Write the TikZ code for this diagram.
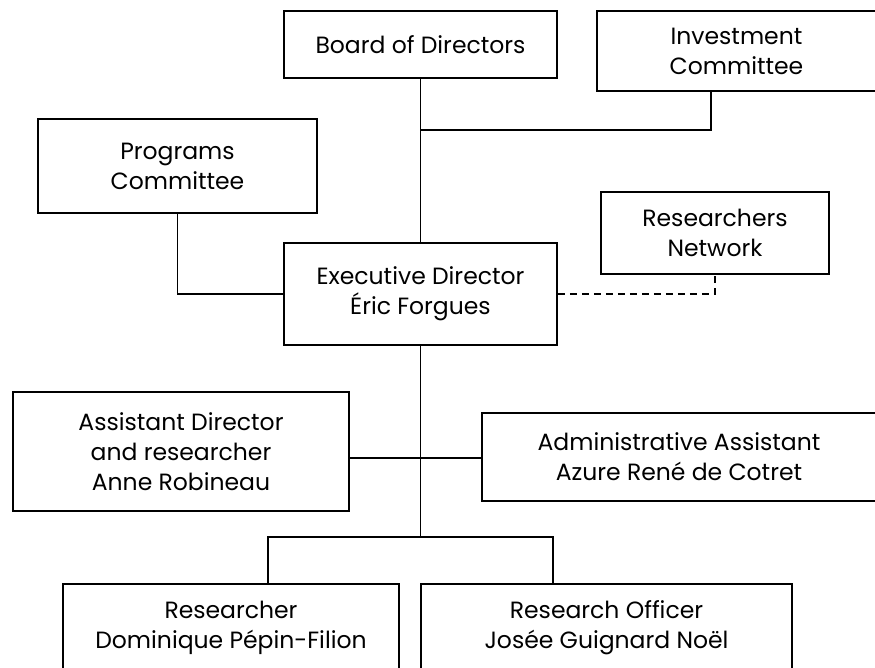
\documentclass[tikz,border=0pt]{standalone}
\usepackage{fontspec}
\setmainfont{Poppins}
\usetikzlibrary{positioning}

\tikzset{
  orgbox/.style={draw,line width=1.5pt,rectangle,align=center,inner sep=0pt,
    font=\fontsize{23.5}{30}\selectfont},
  link/.style={line width=1.5pt},
}

\begin{document}
\begin{tikzpicture}[x=1pt,y=-1pt]
  \useasboundingbox (0,0) rectangle (875,668);
  \clip (0,0) rectangle (875,668);

  % Haut : conseil et comites
  \node[orgbox,minimum width=273pt,minimum height=67pt] (board) at (420.5,44.5) {Board of Directors};
  \node[orgbox,minimum width=279pt,minimum height=80pt] (invest) at (736.5,51) {Investment\\Committee};
  \node[orgbox,minimum width=279pt,minimum height=94pt] (programs) at (177.5,166) {Programs\\Committee};

  % Direction
  \node[orgbox,minimum width=273pt,minimum height=102pt] (exec) at (420.5,294) {Executive Director\\Éric Forgues};
  \node[orgbox,minimum width=228pt,minimum height=82pt] (network) at (715,233) {Researchers\\Network};

  % Personnel
  \node[orgbox,minimum width=336pt,minimum height=119pt] (assist) at (181,451.5) {Assistant Director\\and researcher\\Anne Robineau};
  \node[orgbox,minimum width=394pt,minimum height=88pt] (admin) at (679,457) {Administrative Assistant\\Azure René de Cotret};
  \node[orgbox,minimum width=336pt,minimum height=88pt] (res) at (231,628) {Researcher\\Dominique Pépin-Filion};
  \node[orgbox,minimum width=371pt,minimum height=88pt] (officer) at (606.5,628) {Research Officer\\Josée Guignard Noël};

  % Points de jonction
  \coordinate (jinv) at (711,130);
  \coordinate (jmid) at (424,458);
  \coordinate (jleft) at (268,537);
  \coordinate (jright) at (553,537);

  % Liaisons
  \draw[link] (board.south) -- (exec.north);
  \draw[link] (jinv |- invest.south) -- (jinv) -- (jinv -| board.south);
  \draw[link] (programs.south) |- (exec.west);
  \draw[link,dashed,dash pattern=on 7pt off 5pt] (exec.east) -| (network.south);
  \draw[link] (exec.south) -- (exec.south |- jleft);
  \draw[link] (jmid -| assist.east) -- (jmid -| admin.west);
  \draw[link] (jleft |- res.north) -- (jleft) -- (jright) -- (jright |- officer.north);
\end{tikzpicture}
\end{document}
